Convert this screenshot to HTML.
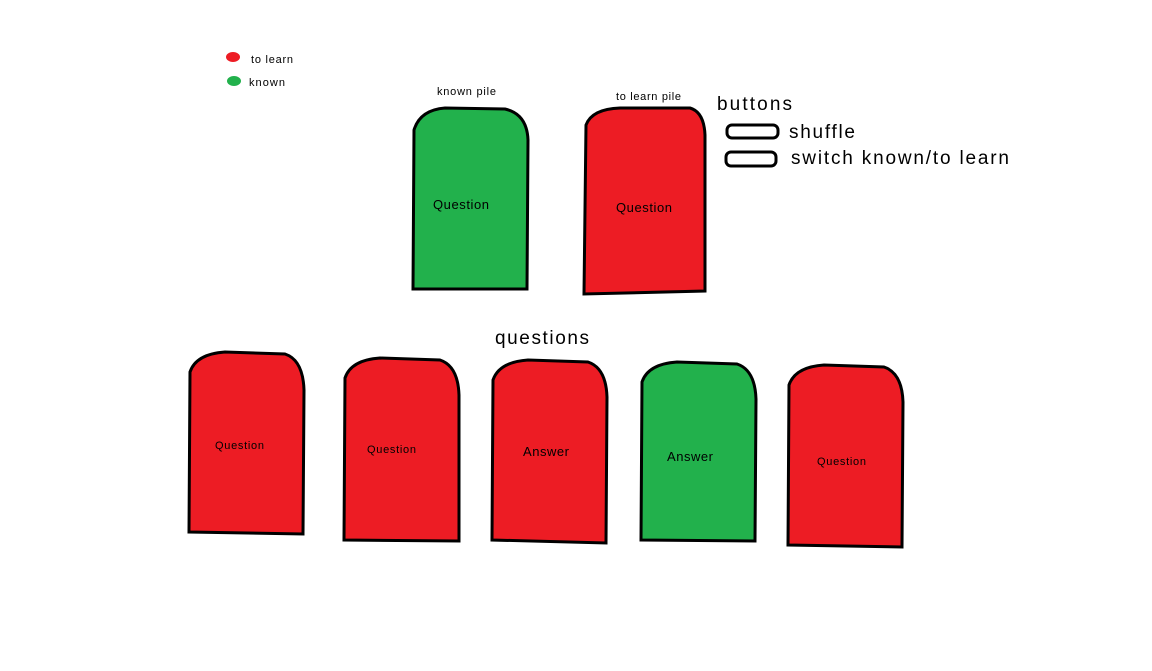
<!DOCTYPE html>
<html><head><meta charset="utf-8"><style>
body{margin:0;background:#fff;width:1152px;height:671px;overflow:hidden}
svg{display:block}
text{font-family:"Liberation Sans",sans-serif;fill:#000}
</style></head><body>
<svg width="1152" height="671" viewBox="0 0 1152 671">
<g>
<ellipse cx="233" cy="57" rx="7" ry="5" fill="#ED1C24"/>
<text x="251" y="63" font-size="11" textLength="42">to learn</text>
<ellipse cx="234" cy="81" rx="7" ry="5" fill="#22B14C"/>
<text x="249" y="86" font-size="11" textLength="36">known</text>
</g>
<text x="437" y="95" font-size="11" textLength="59">known pile</text>
<text x="616" y="100" font-size="11" textLength="65">to learn pile</text>
<g>
<path d="M413,289 L414,130 Q420,110 445,108 L505,109 Q527,114 528,140 L527,289 Z" fill="#22B14C" stroke="#000" stroke-width="3"/>
<text x="433" y="209" font-size="13" textLength="56">Question</text></g>
<g>
<path d="M584,294 L586,125 Q592,109 620,108 L690,108 Q704,112 705,135 L705,291 Z" fill="#ED1C24" stroke="#000" stroke-width="3"/>
<text x="616" y="212" font-size="13" textLength="56">Question</text></g>
<text x="717" y="110" font-size="19" textLength="75">buttons</text>
<rect x="727" y="125" width="51" height="13" rx="5" fill="none" stroke="#000" stroke-width="3"/>
<text x="789" y="138" font-size="19" textLength="66">shuffle</text>
<rect x="726" y="152" width="50" height="14" rx="5" fill="none" stroke="#000" stroke-width="3"/>
<text x="791" y="164" font-size="19" textLength="218">switch known/to learn</text>
<text x="495" y="344" font-size="19" textLength="94">questions</text>
<g>
<path d="M189,532 L190,372 Q196,354 225,352 L285,354 Q303,360 304,390 L303,534 Z" fill="#ED1C24" stroke="#000" stroke-width="3"/>
<text x="215" y="449" font-size="11" textLength="49">Question</text></g>
<g>
<path d="M344,540 L345,378 Q351,360 380,358 L440,360 Q458,366 459,395 L459,541 Z" fill="#ED1C24" stroke="#000" stroke-width="3"/>
<text x="367" y="453" font-size="11" textLength="49">Question</text></g>
<g>
<path d="M492,540 L493,380 Q499,362 528,360 L588,362 Q606,368 607,397 L606,543 Z" fill="#ED1C24" stroke="#000" stroke-width="3"/>
<text x="523" y="456" font-size="13" textLength="46">Answer</text></g>
<g>
<path d="M641,540 L642,382 Q648,364 677,362 L737,364 Q755,370 756,399 L755,541 Z" fill="#22B14C" stroke="#000" stroke-width="3"/>
<text x="667" y="461" font-size="13" textLength="46">Answer</text></g>
<g>
<path d="M788,545 L789,385 Q795,367 824,365 L884,367 Q902,373 903,402 L902,547 Z" fill="#ED1C24" stroke="#000" stroke-width="3"/>
<text x="817" y="465" font-size="11" textLength="49">Question</text></g>
</svg>
</body></html>
